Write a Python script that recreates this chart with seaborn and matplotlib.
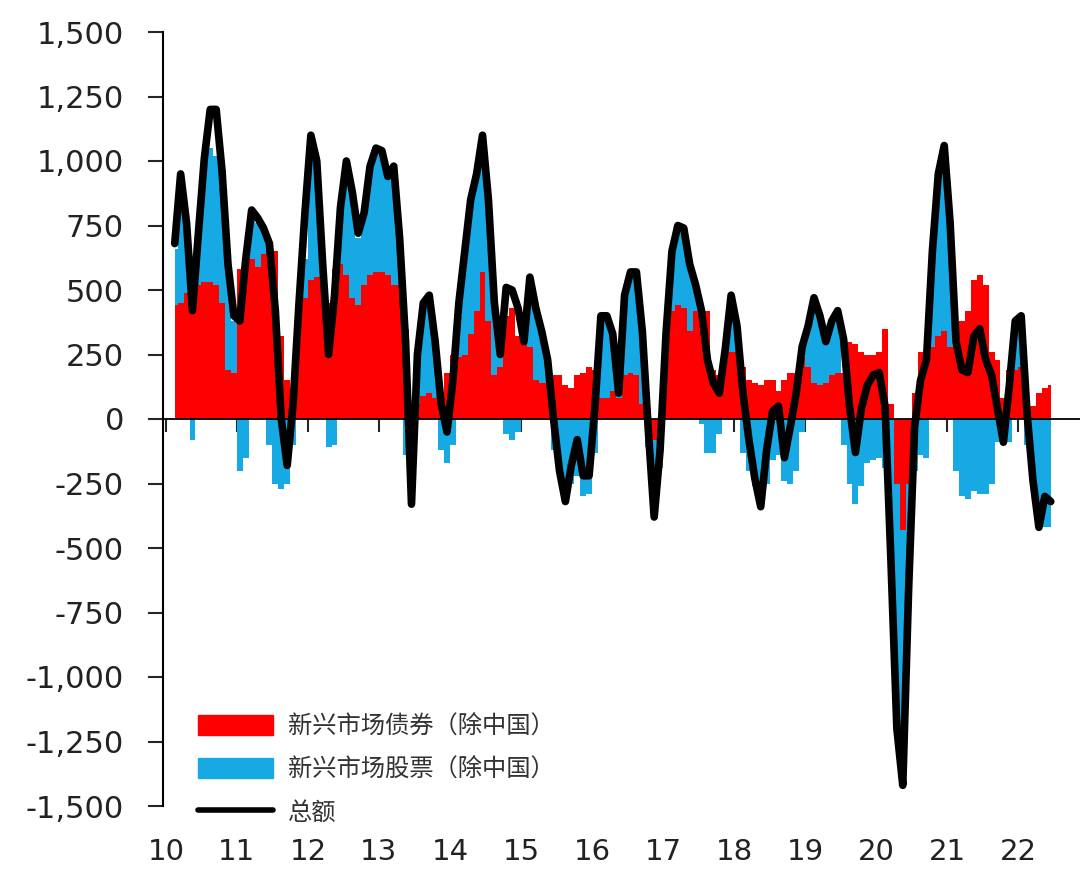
import numpy as np
import pandas as pd
import seaborn as sns
import matplotlib.pyplot as plt
from matplotlib.patches import Patch
from matplotlib.lines import Line2D

# Monthly flows, Feb 2010 .. Jun 2022
months = pd.period_range('2010-02', '2022-06', freq='M')

bonds = [
    440, 450, 490, 500, 520, 530, 530, 520, 450, 190, 180,
    580, 600, 620, 590, 640, 660, 650, 320, 150, 80, 400, 470,
    540, 550, 520, 450, 580, 600, 560, 470, 440, 520, 560, 570,
    570, 560, 520, 520, 350, 30, 60, 90, 100, 80, 100, 180,
    250, 240, 250, 330, 420, 570, 380, 170, 200, 400, 430, 320,
    290, 280, 150, 140, 140, 170, 170, 130, 120, 170, 180, 200,
    190, 80, 80, 110, 80, 170, 180, 170, 60, -50, -80, -40,
    300, 420, 440, 430, 340, 420, 440, 420, 190, 170, 230, 260,
    260, 200, 150, 140, 130, 150, 150, 110, 150, 180, 180, 240,
    200, 140, 130, 140, 170, 180, 180, 300, 290, 260, 250, 250,
    260, 350, 60, -250, -430, -250, 100, 260, 250, 280, 320, 340,
    280, 280, 380, 420, 540, 560, 520, 260, 230, 80, 190, 190,
    200, 60, 50, 100, 120, 130,
]

equities = [
    220, 450, 260, -80, 200, 470, 520, 500, 450, 380, 200,
    -200, -150, 150, 170, 80, -100, -250, -270, -250, -100, 50, 150,
    560, 450, 80, -110, -100, 200, 440, 400, 260, 280, 420, 480,
    470, 380, 440, 180, -140, -200, 150, 360, 380, 200, -120, -170,
    -100, 160, 400, 520, 530, 530, 470, 280, 50, -60, -80, -50,
    30, 270, 280, 200, 90, -120, -160, -300, -250, -220, -300, -290,
    -130, 320, 320, 220, 40, 310, 390, 400, 280, -60, -300, -150,
    30, 230, 310, 310, 260, 100, -20, -130, -130, -60, 40, 220,
    100, -130, -200, -260, -290, -250, -160, -140, -240, -250, -200, -50,
    160, 300, 260, 150, 220, 240, -100, -250, -330, -260, -170, -160,
    -150, -190, -500, -950, -950, -400, -200, -140, -150, 370, 630, 700,
    480, -200, -300, -310, -280, -290, -290, -250, -90, -80, -90, 150,
    180, -100, -250, -420, -420, -420,
]

total = [
    680, 950, 760, 420, 720, 1010, 1200, 1200, 960, 600, 400,
    380, 620, 810, 780, 740, 680, 420, 0, -180, 60, 450, 800,
    1100, 1000, 600, 250, 480, 820, 1000, 880, 720, 800, 980, 1050,
    1040, 940, 980, 700, 300, -330, 250, 450, 480, 300, 60, -50,
    150, 450, 650, 850, 950, 1100, 850, 450, 250, 510, 500, 430,
    300, 550, 430, 340, 230, 0, -200, -320, -180, -80, -220, -220,
    50, 400, 400, 330, 100, 480, 570, 570, 340, -40, -380, -120,
    330, 650, 750, 740, 600, 520, 420, 230, 140, 100, 270, 480,
    360, 100, -80, -230, -340, -120, 30, 50, -150, -30, 100, 280,
    360, 470, 400, 300, 380, 420, 310, 50, -130, 40, 130, 170,
    180, 50, -550, -1200, -1420, -650, -30, 150, 230, 650, 950, 1060,
    760, 300, 190, 180, 320, 350, 230, 170, 40, -90, 130, 380,
    400, 20, -240, -420, -300, -320,
]

year_ticks = list(range(2010, 2023))
year_labels = [str(y)[2:] for y in year_ticks]
legend_labels = ['新兴市场债券（除中国）', '新兴市场股票（除中国）', '总额']

RED = '#ff0000'
BLUE = '#17a9e3'

df = pd.DataFrame({'bonds': bonds, 'equities': equities, 'total': total})
df['x'] = months.year + (months.month - 0.5) / 12

# stacked like an Excel column chart: positives and negatives stack separately
pos_base = df['bonds'].clip(lower=0)
neg_base = df['bonds'].clip(upper=0)
eq_lo = np.where(df['equities'] >= 0, pos_base, neg_base + df['equities'])
eq_hi = np.where(df['equities'] >= 0, pos_base + df['equities'], neg_base)

sns.set_theme(style='white')
plt.rcParams['font.family'] = ['DejaVu Sans', 'Noto Sans CJK SC']

fig = plt.figure(figsize=(10.8, 8.69), dpi=100)
ax = fig.add_axes([163 / 1080, 63 / 869, 917 / 1080, 774 / 869])

ax.fill_between(df['x'], 0, df['bonds'], step='mid', color=RED, lw=0, zorder=1)
ax.fill_between(df['x'], eq_lo, eq_hi, step='mid', color=BLUE, lw=0, zorder=1)
sns.lineplot(data=df, x='x', y='total', color='black', lw=5.5, ax=ax, zorder=3)

ax.set_xlim(2009.96, 2022.87)
ax.set_ylim(-1500, 1500)
ax.set_xlabel('')
ax.set_ylabel('')

ax.set_yticks(range(-1500, 1501, 250))
ax.set_yticklabels([f'{v:,}' for v in range(-1500, 1501, 250)])
ax.tick_params(axis='y', direction='out', length=11, width=1.5, pad=17,
               labelsize=22, labelcolor='#222222', left=True)

# zero line acts as the x axis; labels sit at the bottom
for s in ['top', 'right']:
    ax.spines[s].set_visible(False)
ax.spines['left'].set_color('black')
ax.spines['left'].set_linewidth(1.5)
ax.spines['bottom'].set_position(('data', 0))
ax.spines['bottom'].set_color('black')
ax.spines['bottom'].set_linewidth(1.3)
ax.spines['bottom'].set_zorder(2)
ax.set_xticks(year_ticks)
ax.tick_params(axis='x', direction='out', length=9, width=1.5, bottom=True,
               labelbottom=False)

sec = ax.secondary_xaxis('bottom')
sec.set_xticks(year_ticks)
sec.set_xticklabels(year_labels)
sec.spines['bottom'].set_visible(False)
sec.tick_params(axis='x', length=0, pad=23, labelsize=21, labelcolor='#222222')

handles = [Patch(color=RED), Patch(color=BLUE), Line2D([], [], color='black', lw=4)]
fig.legend(handles, legend_labels, loc='lower left', bbox_to_anchor=(0.183, 0.05),
           frameon=False, borderpad=0, borderaxespad=0,
           prop={'family': 'Noto Sans CJK SC', 'size': 17.5},
           handlelength=3.1, handleheight=0.85, handletextpad=0.6, labelspacing=0.7,
           labelcolor='#333333')

fig.savefig('out.png', dpi=100, facecolor='white')
